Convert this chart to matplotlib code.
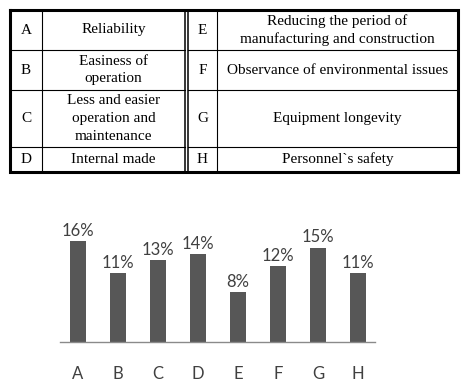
import matplotlib
matplotlib.use("Agg")
import matplotlib.pyplot as plt

# ---- data ----
letters_left = ["A", "B", "C", "D"]
desc_left = ["Reliability", "Easiness of\noperation", "Less and easier\noperation and\nmaintenance", "Internal made"]
letters_right = ["E", "F", "G", "H"]
desc_right = ["Reducing the period of\nmanufacturing and construction", "Observance of environmental issues",
              "Equipment longevity", "Personnel`s safety"]

categories = ["A", "B", "C", "D", "E", "F", "G", "H"]
values = [16, 11, 13, 14, 8, 12, 15, 11]
value_labels = ["16%", "11%", "13%", "14%", "8%", "12%", "15%", "11%"]

W, H = 462, 390
fig = plt.figure(figsize=(W / 100, H / 100), dpi=100)
fig.patch.set_facecolor("white")

# ---- table (pixel coordinates) ----
tax = fig.add_axes([0, 0, 1, 1])
tax.set_xlim(0, W)
tax.set_ylim(H, 0)
tax.axis("off")

left, right, top, bottom = 10, 458, 10, 172
col1, midA, midB, col3 = 42, 185, 188, 217
row_lines = [50, 90, 147]
rows = [top] + row_lines + [bottom]

lc = "black"
tax.plot([left, right, right, left, left], [top, top, bottom, bottom, top], color=lc, lw=2.2,
         solid_joinstyle="miter")
for x in (col1, col3):
    tax.plot([x, x], [top, bottom], color=lc, lw=0.8)
for x in (midA, midB):
    tax.plot([x, x], [top, bottom], color=lc, lw=1.1)
for y in row_lines:
    tax.plot([left, midA], [y, y], color=lc, lw=0.8)
    tax.plot([midB, right], [y, y], color=lc, lw=0.8)

serif = "Liberation Serif"
fs = 11
ls = 1.45
for i in range(4):
    yc = (rows[i] + rows[i + 1]) / 2
    tax.text((left + col1) / 2, yc, letters_left[i], ha="center", va="center", family=serif, fontsize=fs,
             linespacing=ls)
    tax.text((col1 + midA) / 2, yc, desc_left[i], ha="center", va="center", family=serif, fontsize=fs,
             linespacing=ls)
    tax.text((midB + col3) / 2, yc, letters_right[i], ha="center", va="center", family=serif, fontsize=fs,
             linespacing=ls)
    tax.text((col3 + right) / 2, yc, desc_right[i], ha="center", va="center", family=serif, fontsize=fs,
             linespacing=ls)

# ---- bar chart ----
ax_left, ax_right, ax_base = 60, 375, 342
ymax = 20
px_per = 6.3
ax_h = ymax * px_per
ax = fig.add_axes([ax_left / W, (H - ax_base) / H, (ax_right - ax_left) / W, ax_h / H])
ax.patch.set_alpha(0)
x = list(range(len(categories)))
ax.bar(x, values, width=0.41, color="#575757", edgecolor="none")
ax.set_xlim(-0.45, 7.42)
ax.set_ylim(0, ymax)
for s in ("top", "right", "left"):
    ax.spines[s].set_visible(False)
ax.spines["bottom"].set_color("#8a8a8a")
ax.spines["bottom"].set_linewidth(1.0)
ax.set_yticks([])
ax.set_xticks(x)
ax.set_xticklabels(categories, family="Lato", fontsize=12, color="#404040")
ax.tick_params(axis="x", length=0, pad=17)
for xi, v, lab in zip(x, values, value_labels):
    ax.annotate(lab, (xi, v), xytext=(0, 1.5), textcoords="offset points", ha="center", va="bottom",
                family="Lato", fontsize=12, color="#404040", annotation_clip=False)

fig.savefig("out.png", dpi=100)
